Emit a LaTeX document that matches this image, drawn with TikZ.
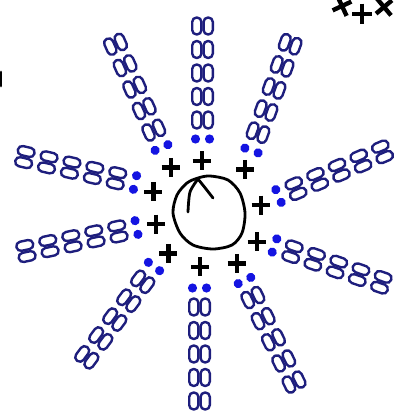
\documentclass[tikz,border=0pt]{standalone}
\usepackage{tikz}
\definecolor{tailblue}{RGB}{30,30,125}
\definecolor{headblue}{RGB}{20,20,225}
\begin{document}
\begin{tikzpicture}[
    x=1pt, y=-1pt,
    tail/.style={draw=tailblue, line width=2.4pt, rounded corners=4.4pt},
    head/.style={fill=headblue},
    charge/.style={line width=4.4pt},
    outline/.style={line width=2.8pt, line cap=round, line join=round},
    arm/.pic={
        \fill[head] (0,7) circle (4.6) (0,-7) circle (4.6);
        \foreach \k in {0,...,4}{
            \draw[tail] ({10.5+23.5*\k},1.1) rectangle ({27.5+23.5*\k},10.3);
            \draw[tail] ({10.5+23.5*\k},-1.1) rectangle ({27.5+23.5*\k},-10.3);
        }
    },
    plus/.pic={\draw[charge] (-9,0) -- (9,0) (0,-9.5) -- (0,9.5);},
]
\useasboundingbox (0,0) rectangle (395,412);

% lipid arms, heads inward
\foreach \px/\py/\ang in {202.5/139/90, 161.5/147.5/114, 251.5/150.5/70,
    135/182.5/167, 136.5/227.5/192, 278.5/196/23, 274.5/245.5/-19,
    154/266.5/233.5, 199.5/288/270, 244.5/280.5/-64}
    \pic[rotate=\ang] at (\px,\py) {arm};

% charges round the core
\foreach \px/\py in {170.7/167.3, 201.7/160.7, 245/169.3, 153.3/191.7,
    260.7/205, 156/224, 256.7/241.7, 168.3/253.3, 200/266.7, 236.7/263.3}
    \pic at (\px,\py) {plus};

% core with hook
\draw[outline] plot[smooth cycle] coordinates {(198,178) (210,176) (228,180)
    (240,193) (245,213) (242,233) (232,245) (213,249) (193,245) (180,233)
    (173,213) (177,195) (187,183)};
\draw[outline] plot[smooth] coordinates {(188,212) (190,192) (198,179)};
\draw[outline] plot[smooth] coordinates {(198,179) (206,189) (213,198)};

% cut-off marks at the edges
\pic[rotate=25,scale=1.15] at (342,6) {plus};
\pic[scale=1.1] at (362,14) {plus};
\pic[rotate=40,scale=1.15] at (384,7) {plus};
\draw[outline] (1,72) -- (1,86);
\end{tikzpicture}
\end{document}
